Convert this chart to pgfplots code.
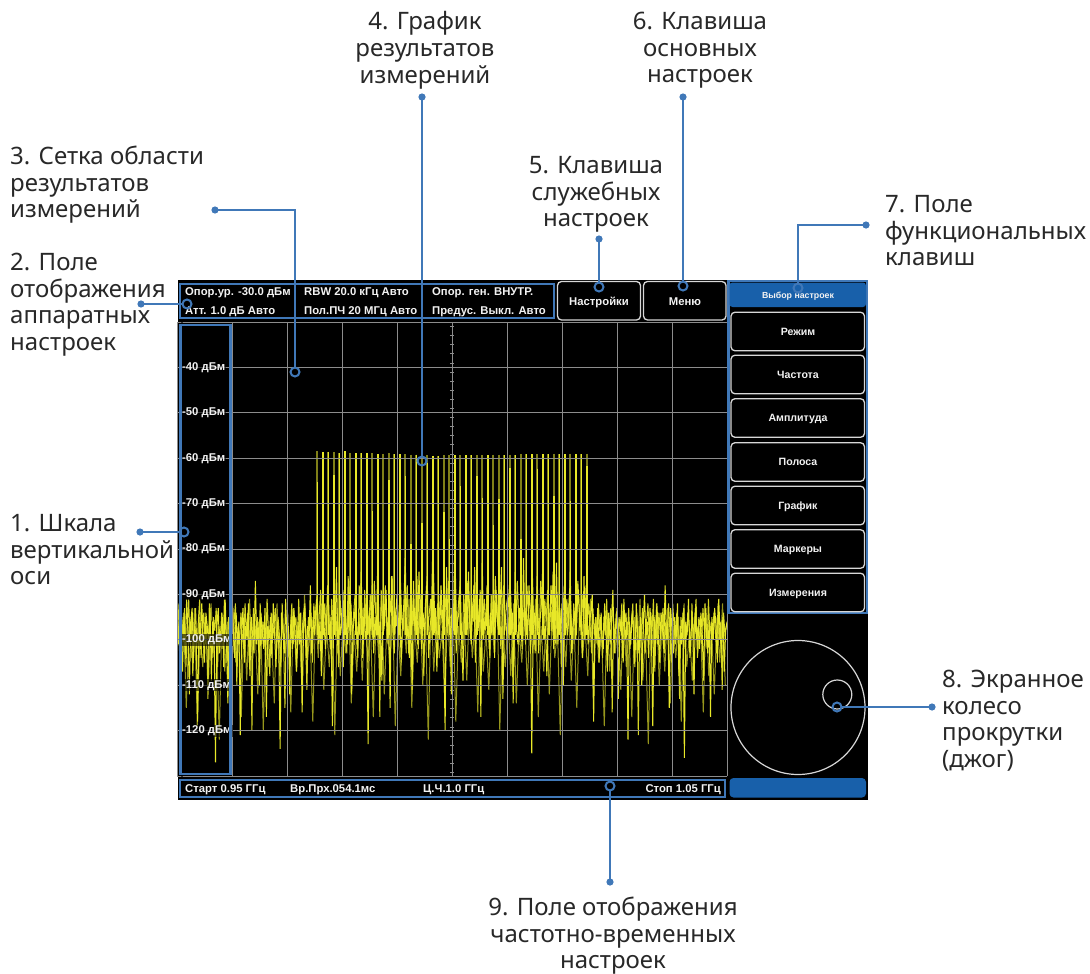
\documentclass[border=0pt]{standalone}
\usepackage{pgfplots}
\pgfplotsset{compat=1.18}
\usepackage{pgfplotstable}
\usepackage{fontspec}
\setmainfont{Noto Sans}
\newfontfamily\uifont{Liberation Sans}

\definecolor{lineblue}{RGB}{64,120,184}
\definecolor{keyblue}{RGB}{24,96,170}
\definecolor{trace}{RGB}{232,232,40}
\definecolor{tracetwo}{RGB}{215,215,35}
\definecolor{tracedim}{RGB}{128,128,24}
\definecolor{traceold}{RGB}{150,150,28}
\definecolor{gridgray}{RGB}{140,140,140}
\definecolor{anntext}{RGB}{40,40,40}
\definecolor{keyedge}{RGB}{215,215,215}
\definecolor{uiwhite}{RGB}{242,242,242}

% comb lines of the measured signal: bin, current sweep top, held top (dBm)
\pgfplotstableread{
bin bright dim
102 -65.3 -58.4
106 -58.7 -58.7
110 -58.6 -58.6
114 -63.8 -58.6
118 -58.9 -58.9
122 -58.5 -58.5
126 -75.9 -58.8
130 -58.9 -58.9
134 -58.9 -58.9
138 -58.9 -58.9
142 -71.7 -58.9
146 -59.1 -59.1
150 -80.0 -59.0
154 -64.9 -58.9
158 -59.1 -59.1
162 -59.1 -59.1
166 -64.0 -59.1
170 -79.0 -59.2
174 -59.2 -59.2
178 -74.3 -59.2
182 -61.1 -59.3
186 -59.5 -59.5
190 -59.5 -59.5
194 -71.9 -59.4
198 -77.8 -59.4
202 -59.3 -59.3
206 -66.2 -59.3
210 -59.3 -59.3
214 -59.3 -59.3
218 -64.0 -59.3
222 -68.7 -59.3
226 -59.3 -59.3
230 -74.7 -59.2
234 -69.0 -59.2
238 -59.3 -59.3
242 -62.2 -59.2
246 -59.3 -59.3
250 -77.9 -59.1
254 -59.1 -59.1
258 -59.1 -59.1
262 -62.3 -59.1
266 -59.1 -59.1
270 -59.1 -59.1
274 -68.4 -59.0
278 -59.1 -59.1
282 -59.1 -59.1
286 -69.5 -59.0
290 -59.1 -59.1
294 -59.1 -59.1
298 -61.8 -59.0
}\combtable

\tikzset{
  ui/.style={font=\uifont\bfseries\fontsize{11.3}{13}\selectfont, text=uiwhite, inner sep=0pt},
  uis/.style={font=\uifont\bfseries\fontsize{10.6}{12}\selectfont, text=uiwhite, inner sep=0pt},
  ann/.style={font=\fontsize{24}{28}\selectfont, text=anntext, inner sep=0pt},
  key/.style={draw=keyedge, line width=1.3pt, rounded corners=4pt, fill=black},
  lead/.style={lineblue, line width=2.5pt},
  ring/.style={lineblue, line width=2pt},
}

\begin{document}
\begin{tikzpicture}
\path[use as bounding box] (0,0) rectangle (1090pt,-974pt);

\begin{scope}[x=1pt,y=-1pt]
  % instrument screen
  \fill[black] (178,280) rectangle (868,800);
  % centre marks on the 1 GHz line
  \foreach \yy in {326.5,335.6,...,776}
    \draw[gridgray, line width=0.8pt] (449.8,\yy) -- (454.2,\yy);
\end{scope}

\begin{axis}[
  at={(177pt,-776pt)}, anchor=south west,
  scale only axis, width=550pt, height=454pt,
  xmin=0, xmax=400, ymin=-130, ymax=-30,
  axis on top,
  axis line style={draw=none},
  major tick length=0pt,
  xtick={0,40,...,400}, xticklabels={},
  ytick={-130,-120,...,-30},
  yticklabels={,-120 дБм,-110 дБм,-100 дБм,-90 дБм,-80 дБм,-70 дБм,-60 дБм,-50 дБм,-40 дБм,},
  grid=major, major grid style={gridgray, line width=1pt},
  yticklabel style={anchor=west, xshift=4pt, font=\uifont\bfseries\fontsize{11.3}{13}\selectfont,
    text=uiwhite, fill=black, fill opacity=0.6, text opacity=1, inner sep=1pt},
]
% held comb lines
\addplot[draw=none, mark=none,
  error bars/.cd, y dir=minus, y explicit, error mark=none,
  error bar style={draw=tracedim, line width=2.2pt}]
  table[x=bin, y=dim, y error expr=\thisrow{dim}+99] {\combtable};
% older sweep (persistence), every second bin
\addplot[traceold, line width=1pt] coordinates {
(0.75,-96) (2.75,-108) (4.75,-94) (6.75,-115) (8.75,-97) (10.75,-104) (12.75,-93) (14.75,-119) (16.75,-98) (18.75,-106)
(20.75,-95) (22.75,-111) (24.75,-92) (26.75,-103) (28.75,-99) (30.75,-122) (32.75,-94) (34.75,-107) (36.75,-96) (38.75,-113)
(40.75,-93) (42.75,-105) (44.75,-98) (46.75,-117) (48.75,-95) (50.75,-109) (52.75,-91) (54.75,-104) (56.75,-97) (58.75,-112)
(60.75,-94) (62.75,-120) (64.75,-96) (66.75,-106) (68.75,-99) (70.75,-114) (72.75,-92) (74.75,-108) (76.75,-95) (78.75,-103)
(80.75,-97) (82.75,-116) (84.75,-93) (86.75,-107) (88.75,-96) (90.75,-110) (92.75,-90) (94.75,-105) (96.75,-98) (98.75,-118)
(100.75,-94) (102.75,-104) (104.75,-92) (106.75,-111) (108.75,-97) (110.75,-106) (112.75,-95) (114.75,-121) (116.75,-93) (118.75,-108)
(120.75,-96) (122.75,-103) (124.75,-91) (126.75,-114) (128.75,-98) (130.75,-107) (132.75,-94) (134.75,-109) (136.75,-92) (138.75,-105)
(140.75,-97) (142.75,-117) (144.75,-95) (146.75,-104) (148.75,-90) (150.75,-112) (152.75,-96) (154.75,-106) (156.75,-93) (158.75,-119)
(160.75,-98) (162.75,-108) (164.75,-94) (166.75,-103) (168.75,-91) (170.75,-115) (172.75,-97) (174.75,-105) (176.75,-93) (178.75,-110)
(180.75,-96) (182.75,-122) (184.75,-92) (186.75,-107) (188.75,-95) (190.75,-104) (192.75,-98) (194.75,-113) (196.75,-94) (198.75,-106)
(200.75,-92) (202.75,-118) (204.75,-97) (206.75,-105) (208.75,-95) (210.75,-109) (212.75,-91) (214.75,-104) (216.75,-96) (218.75,-116)
(220.75,-93) (222.75,-107) (224.75,-98) (226.75,-111) (228.75,-94) (230.75,-103) (232.75,-90) (234.75,-120) (236.75,-97) (238.75,-106)
(240.75,-95) (242.75,-108) (244.75,-92) (246.75,-114) (248.75,-98) (250.75,-105) (252.75,-94) (254.75,-110) (256.75,-96) (258.75,-103)
(260.75,-91) (262.75,-117) (264.75,-97) (266.75,-107) (268.75,-93) (270.75,-112) (272.75,-95) (274.75,-104) (276.75,-98) (278.75,-121)
(280.75,-94) (282.75,-106) (284.75,-92) (286.75,-109) (288.75,-96) (290.75,-115) (292.75,-93) (294.75,-104) (296.75,-97) (298.75,-108)
(300.75,-91) (302.75,-113) (304.75,-95) (306.75,-105) (308.75,-98) (310.75,-119) (312.75,-94) (314.75,-107) (316.75,-92) (318.75,-103)
(320.75,-96) (322.75,-111) (324.75,-93) (326.75,-106) (328.75,-97) (330.75,-117) (332.75,-95) (334.75,-104) (336.75,-91) (338.75,-109)
(340.75,-98) (342.75,-123) (344.75,-94) (346.75,-105) (348.75,-92) (350.75,-110) (352.75,-96) (354.75,-107) (356.75,-93) (358.75,-114)
(360.75,-97) (362.75,-104) (364.75,-95) (366.75,-118) (368.75,-92) (370.75,-106) (372.75,-98) (374.75,-109) (376.75,-94) (378.75,-103)
(380.75,-96) (382.75,-116) (384.75,-93) (386.75,-108) (388.75,-97) (390.75,-112) (392.75,-95) (394.75,-105) (396.75,-92) (398.75,-110)
};
% previous sweep, offset by half a bin
\addplot[tracetwo, line width=1pt] coordinates {
(0.5,-98) (1.5,-92) (2.5,-103) (3.5,-95) (4.5,-100) (5.5,-93) (6.5,-106) (7.5,-97) (8.5,-91) (9.5,-101)
(10.5,-95) (11.5,-108) (12.5,-99) (13.5,-93) (14.5,-102) (15.5,-96) (16.5,-91) (17.5,-104) (18.5,-98) (19.5,-94)
(20.5,-101) (21.5,-97) (22.5,-113) (23.5,-92) (24.5,-99) (25.5,-104) (26.5,-95) (27.5,-98) (28.5,-93) (29.5,-106)
(30.5,-97) (31.5,-100) (32.5,-94) (33.5,-102) (34.5,-91) (35.5,-98) (36.5,-105) (37.5,-95) (38.5,-99) (39.5,-93)
(40.5,-103) (41.5,-96) (42.5,-92) (43.5,-110) (44.5,-97) (45.5,-101) (46.5,-94) (47.5,-99) (48.5,-102) (49.5,-92)
(50.5,-99) (51.5,-94) (52.5,-105) (53.5,-96) (54.5,-120) (55.5,-93) (56.5,-100) (57.5,-97) (58.5,-95) (59.5,-103)
(60.5,-92) (61.5,-101) (62.5,-96) (63.5,-99) (64.5,-104) (65.5,-91) (66.5,-98) (67.5,-108) (68.5,-94) (69.5,-100)
(70.5,-97) (71.5,-93) (72.5,-102) (73.5,-95) (74.5,-99) (75.5,-106) (76.5,-92) (77.5,-100) (78.5,-115) (79.5,-96)
(80.5,-94) (81.5,-104) (82.5,-98) (83.5,-92) (84.5,-101) (85.5,-97) (86.5,-95) (87.5,-103) (88.5,-91) (89.5,-99)
(90.5,-102) (91.5,-96) (92.5,-93) (93.5,-100) (94.5,-111) (95.5,-95) (96.5,-98) (97.5,-94) (98.5,-105) (99.5,-92)
(100.5,-97) (101.5,-91) (102.5,-100) (103.5,-94) (104.5,-89) (105.5,-103) (106.5,-96) (107.5,-92) (108.5,-99) (109.5,-88)
(110.5,-95) (111.5,-102) (112.5,-91) (113.5,-97) (114.5,-87) (115.5,-100) (116.5,-94) (117.5,-106) (118.5,-90) (119.5,-96)
(120.5,-99) (121.5,-89) (122.5,-95) (123.5,-103) (124.5,-86) (125.5,-98) (126.5,-92) (127.5,-100) (128.5,-94) (129.5,-90)
(130.5,-97) (131.5,-104) (132.5,-88) (133.5,-95) (134.5,-93) (135.5,-101) (136.5,-89) (137.5,-97) (138.5,-92) (139.5,-99)
(140.5,-90) (141.5,-96) (142.5,-100) (143.5,-87) (144.5,-94) (145.5,-98) (146.5,-91) (147.5,-117) (148.5,-89) (149.5,-95)
(150.5,-98) (151.5,-88) (152.5,-96) (153.5,-101) (154.5,-90) (155.5,-94) (156.5,-86) (157.5,-99) (158.5,-93) (159.5,-97)
(160.5,-92) (161.5,-100) (162.5,-87) (163.5,-96) (164.5,-98) (165.5,-91) (166.5,-95) (167.5,-88) (168.5,-103) (169.5,-94)
(170.5,-89) (171.5,-97) (172.5,-93) (173.5,-99) (174.5,-86) (175.5,-102) (176.5,-95) (177.5,-90) (178.5,-96) (179.5,-108)
(180.5,-93) (181.5,-88) (182.5,-98) (183.5,-94) (184.5,-91) (185.5,-100) (186.5,-85) (187.5,-96) (188.5,-99) (189.5,-92)
(190.5,-97) (191.5,-90) (192.5,-95) (193.5,-101) (194.5,-88) (195.5,-93) (196.5,-99) (197.5,-87) (198.5,-94) (199.5,-112)
(200.5,-91) (201.5,-96) (202.5,-86) (203.5,-99) (204.5,-93) (205.5,-89) (206.5,-97) (207.5,-102) (208.5,-90) (209.5,-95)
(210.5,-98) (211.5,-87) (212.5,-94) (213.5,-100) (214.5,-92) (215.5,-96) (216.5,-84) (217.5,-99) (218.5,-93) (219.5,-97)
(220.5,-89) (221.5,-101) (222.5,-95) (223.5,-91) (224.5,-98) (225.5,-88) (226.5,-94) (227.5,-104) (228.5,-90) (229.5,-96)
(230.5,-99) (231.5,-86) (232.5,-93) (233.5,-97) (234.5,-90) (235.5,-102) (236.5,-95) (237.5,-88) (238.5,-98) (239.5,-92)
(240.5,-94) (241.5,-100) (242.5,-89) (243.5,-96) (244.5,-114) (245.5,-91) (246.5,-97) (247.5,-87) (248.5,-95) (249.5,-99)
(250.5,-90) (251.5,-96) (252.5,-93) (253.5,-101) (254.5,-88) (255.5,-94) (256.5,-98) (257.5,-92) (258.5,-86) (259.5,-97)
(260.5,-103) (261.5,-90) (262.5,-95) (263.5,-99) (264.5,-87) (265.5,-93) (266.5,-100) (267.5,-91) (268.5,-96) (269.5,-89)
(270.5,-97) (271.5,-92) (272.5,-98) (273.5,-85) (274.5,-94) (275.5,-101) (276.5,-90) (277.5,-96) (278.5,-93) (279.5,-106)
(280.5,-88) (281.5,-95) (282.5,-99) (283.5,-91) (284.5,-97) (285.5,-89) (286.5,-94) (287.5,-102) (288.5,-92) (289.5,-96)
(290.5,-99) (291.5,-87) (292.5,-93) (293.5,-97) (294.5,-90) (295.5,-95) (296.5,-100) (297.5,-88) (298.5,-96) (299.5,-92)
(300.5,-97) (301.5,-103) (302.5,-93) (303.5,-99) (304.5,-95) (305.5,-101) (306.5,-92) (307.5,-98) (308.5,-94) (309.5,-104)
(310.5,-95) (311.5,-99) (312.5,-91) (313.5,-102) (314.5,-97) (315.5,-93) (316.5,-116) (317.5,-96) (318.5,-100) (319.5,-94)
(320.5,-101) (321.5,-95) (322.5,-98) (323.5,-92) (324.5,-105) (325.5,-97) (326.5,-94) (327.5,-99) (328.5,-93) (329.5,-102)
(330.5,-96) (331.5,-92) (332.5,-104) (333.5,-98) (334.5,-94) (335.5,-121) (336.5,-97) (337.5,-100) (338.5,-93) (339.5,-99)
(340.5,-103) (341.5,-96) (342.5,-92) (343.5,-100) (344.5,-95) (345.5,-98) (346.5,-91) (347.5,-107) (348.5,-96) (349.5,-101)
(350.5,-94) (351.5,-99) (352.5,-97) (353.5,-93) (354.5,-103) (355.5,-96) (356.5,-100) (357.5,-92) (358.5,-98) (359.5,-105)
(360.5,-92) (361.5,-97) (362.5,-101) (363.5,-94) (364.5,-99) (365.5,-113) (366.5,-95) (367.5,-98) (368.5,-93) (369.5,-102)
(370.5,-99) (371.5,-94) (372.5,-97) (373.5,-103) (374.5,-92) (375.5,-100) (376.5,-96) (377.5,-91) (378.5,-104) (379.5,-95)
(380.5,-97) (381.5,-101) (382.5,-93) (383.5,-98) (384.5,-95) (385.5,-102) (386.5,-91) (387.5,-99) (388.5,-96) (389.5,-100)
(390.5,-94) (391.5,-98) (392.5,-103) (393.5,-92) (394.5,-100) (395.5,-96) (396.5,-111) (397.5,-94) (398.5,-99) (399.5,-97)
};
% current sweep, 0.25 MHz bins from 0.95 GHz
\addplot[trace, line width=1pt] coordinates {
(0,-94) (1,-101) (2,-92) (3,-99) (4,-107) (5,-95) (6,-103) (7,-91) (8,-98) (9,-112)
(10,-96) (11,-93) (12,-104) (13,-97) (14,-100) (15,-118) (16,-95) (17,-102) (18,-92) (19,-99)
(20,-105) (21,-94) (22,-97) (23,-101) (24,-93) (25,-109) (26,-96) (27,-100) (28,-127) (29,-97)
(30,-93) (31,-103) (32,-98) (33,-95) (34,-106) (35,-91) (36,-100) (37,-114) (38,-96) (39,-102)
(40,-89) (41,-99) (42,-104) (43,-94) (44,-101) (45,-96) (46,-121) (47,-98) (48,-93) (49,-105)
(50,-97) (51,-100) (52,-92) (53,-108) (54,-95) (55,-99) (56,-103) (57,-87) (58,-101) (59,-96)
(60,-110) (61,-94) (62,-98) (63,-102) (64,-93) (65,-117) (66,-97) (67,-100) (68,-95) (69,-104)
(70,-92) (71,-99) (72,-106) (73,-96) (74,-101) (75,-124) (76,-94) (77,-98) (78,-103) (79,-91)
(80,-100) (81,-97) (82,-112) (83,-95) (84,-102) (85,-93) (86,-99) (87,-107) (88,-96) (89,-101)
(90,-94) (91,-116) (92,-98) (93,-92) (94,-104) (95,-97) (96,-100) (97,-88) (98,-103) (99,-95)
(100,-99) (101,-93) (102,-90) (103,-101) (104,-96) (105,-108) (106,-86) (107,-97) (108,-102) (109,-94)
(110,-88) (111,-100) (112,-95) (113,-119) (114,-92) (115,-98) (116,-84) (117,-103) (118,-96) (119,-99)
(120,-93) (121,-106) (122,-89) (123,-97) (124,-101) (125,-94) (126,-87) (127,-112) (128,-98) (129,-95)
(130,-91) (131,-102) (132,-96) (133,-99) (134,-85) (135,-104) (136,-93) (137,-100) (138,-97) (139,-123)
(140,-94) (141,-98) (142,-88) (143,-103) (144,-95) (145,-99) (146,-83) (147,-101) (148,-96) (149,-109)
(150,-92) (151,-97) (152,-89) (153,-100) (154,-94) (155,-115) (156,-86) (157,-98) (158,-103) (159,-95)
(160,-90) (161,-99) (162,-93) (163,-105) (164,-96) (165,-92) (166,-82) (167,-100) (168,-97) (169,-104)
(170,-95) (171,-111) (172,-87) (173,-98) (174,-93) (175,-101) (176,-85) (177,-96) (178,-102) (179,-94)
(180,-99) (181,-92) (182,-86) (183,-104) (184,-97) (185,-95) (186,-80) (187,-99) (188,-93) (189,-107)
(190,-96) (191,-100) (192,-88) (193,-94) (194,-102) (195,-120) (196,-84) (197,-97) (198,-95) (199,-101)
(200,-93) (201,-98) (202,-79) (203,-103) (204,-96) (205,-94) (206,-87) (207,-100) (208,-109) (209,-95)
(210,-92) (211,-99) (212,-85) (213,-97) (214,-101) (215,-93) (216,-88) (217,-105) (218,-96) (219,-98)
(220,-91) (221,-117) (222,-83) (223,-100) (224,-95) (225,-97) (226,-86) (227,-102) (228,-94) (229,-99)
(230,-90) (231,-104) (232,-89) (233,-96) (234,-98) (235,-93) (236,-84) (237,-113) (238,-97) (239,-95)
(240,-100) (241,-92) (242,-87) (243,-99) (244,-94) (245,-106) (246,-85) (247,-98) (248,-101) (249,-93)
(250,-96) (251,-102) (252,-82) (253,-97) (254,-93) (255,-100) (256,-88) (257,-95) (258,-125) (259,-99)
(260,-94) (261,-98) (262,-86) (263,-103) (264,-96) (265,-92) (266,-84) (267,-100) (268,-97) (269,-108)
(270,-95) (271,-99) (272,-88) (273,-94) (274,-102) (275,-97) (276,-83) (277,-101) (278,-93) (279,-98)
(280,-92) (281,-110) (282,-87) (283,-96) (284,-99) (285,-95) (286,-85) (287,-103) (288,-97) (289,-94)
(290,-100) (291,-93) (292,-89) (293,-98) (294,-95) (295,-104) (296,-86) (297,-99) (298,-92) (299,-101)
(300,-96) (301,-94) (302,-90) (303,-118) (304,-97) (305,-100) (306,-93) (307,-105) (308,-95) (309,-99)
(310,-102) (311,-92) (312,-98) (313,-107) (314,-94) (315,-101) (316,-96) (317,-89) (318,-103) (319,-97)
(320,-93) (321,-113) (322,-99) (323,-95) (324,-104) (325,-91) (326,-100) (327,-97) (328,-122) (329,-96)
(330,-101) (331,-94) (332,-98) (333,-106) (334,-92) (335,-99) (336,-103) (337,-95) (338,-110) (339,-97)
(340,-90) (341,-100) (342,-96) (343,-104) (344,-93) (345,-98) (346,-119) (347,-95) (348,-101) (349,-92)
(350,-99) (351,-105) (352,-94) (353,-97) (354,-102) (355,-88) (356,-100) (357,-96) (358,-115) (359,-93)
(360,-98) (361,-103) (362,-95) (363,-100) (364,-92) (365,-108) (366,-97) (367,-101) (368,-94) (369,-126)
(370,-96) (371,-99) (372,-91) (373,-104) (374,-98) (375,-95) (376,-112) (377,-93) (378,-100) (379,-97)
(380,-102) (381,-94) (382,-99) (383,-109) (384,-92) (385,-98) (386,-103) (387,-96) (388,-117) (389,-95)
(390,-100) (391,-93) (392,-97) (393,-105) (394,-91) (395,-99) (396,-102) (397,-95) (398,-107) (399,-98)
(400,-96)
};
% comb lines of the current sweep
\addplot[draw=none, mark=none,
  error bars/.cd, y dir=minus, y explicit, error mark=none,
  error bar style={draw=trace, line width=1.5pt}]
  table[x=bin, y=bright, y error expr=\thisrow{bright}+99] {\combtable};
\end{axis}

\begin{scope}[x=1pt,y=-1pt]
  % scale column frame
  \draw[lineblue, line width=2.5pt] (180.5,325) rectangle (230.5,774);

  % hardware settings field
  \draw[lineblue, line width=2pt] (180.3,283.7) rectangle (554.3,317.7);
  \node[ui, anchor=base west] at (185,295.3) {Опор.ур. -30.0 дБм};
  \node[ui, anchor=base west] at (185,314.3) {Атт. 1.0 дБ Авто};
  \node[ui, anchor=base west] at (304,295.3) {RBW 20.0 кГц Авто};
  \node[ui, anchor=base west] at (304,314.3) {Пол.ПЧ 20 МГц Авто};
  \node[ui, anchor=base west] at (432,295.3) {Опор. ген. ВНУТР.};
  \node[ui, anchor=base west] at (432,314.3) {Предус. Выкл. Авто};

  % service and main keys
  \draw[key] (557.5,281.5) rectangle (640.5,320);
  \node[ui, anchor=base] at (599,305) {Настройки};
  \draw[key] (643.5,281.5) rectangle (726,320);
  \node[ui, anchor=base] at (685,305) {Меню};

  % function key panel
  \draw[lineblue, line width=2.5pt] (728.5,281) rectangle (867,613);
  \fill[keyblue, rounded corners=3pt] (729.5,282.5) rectangle (866,307);
  \node[font=\uifont\bfseries\fontsize{8.8}{10}\selectfont, text=uiwhite, inner sep=0pt, anchor=base] at (798,298.3) {Выбор настроек};
  \foreach \yc/\lab in {331.5/Режим, 374.5/Частота, 418/Амплитуда, 462/Полоса, 505.5/График, 549/Маркеры, 592.5/Измерения}{
    \draw[key] (731,\yc-19.3) rectangle (864.5,\yc+19.3);
    \node[uis, anchor=base] at (798,\yc+3.8) {\lab};
  }

  % jog wheel
  \draw[keyedge, line width=1.2pt] (798,707.5) circle[radius=67pt];
  \draw[keyedge, line width=1.2pt] (837.3,694.5) circle[radius=14.5pt];
  \fill[keyblue, rounded corners=4pt] (729.5,778) rectangle (866,797.5);

  % frequency and time field
  \draw[lineblue, line width=2pt] (180.3,779.8) rectangle (725,797);
  \node[ui, anchor=base west] at (185,792.3) {Старт 0.95 ГГц};
  \node[ui, anchor=base west] at (290,792.3) {Вр.Прх.054.1мс};
  \node[ui, anchor=base west] at (423,792.3) {Ц.Ч.1.0 ГГц};
  \node[ui, anchor=base east] at (721,792.3) {Стоп 1.05 ГГц};

  % callouts
  \draw[lead] (140,532) -- (179.5,532);
  \fill[lineblue] (140,532) circle[radius=3.6pt];
  \draw[ring] (184,532) circle[radius=4.5pt];

  \draw[lead] (141,304) -- (182.5,304);
  \fill[lineblue] (141,304) circle[radius=3.6pt];
  \draw[ring] (187,304) circle[radius=4.5pt];

  \draw[lead] (215,210) -- (295,210) -- (295,367.5);
  \fill[lineblue] (215,210) circle[radius=3.6pt];
  \draw[ring] (295,372) circle[radius=4.5pt];

  \draw[lead] (422,97) -- (422,456.5);
  \fill[lineblue] (422,97) circle[radius=3.6pt];
  \draw[ring] (422,461) circle[radius=4.5pt];

  \draw[lead] (599,239) -- (599,282.5);
  \fill[lineblue] (599,239) circle[radius=3.6pt];
  \draw[ring] (599,287) circle[radius=4.5pt];

  \draw[lead] (683,97) -- (683,281.5);
  \fill[lineblue] (683,97) circle[radius=3.6pt];
  \draw[ring] (683,286) circle[radius=4.5pt];

  \draw[lead] (866,225) -- (798,225) -- (798,283.5);
  \fill[lineblue] (866,225) circle[radius=3.6pt];
  \draw[ring] (798,288) circle[radius=4.5pt];

  \draw[lead] (841.5,707) -- (932,707);
  \fill[lineblue] (932,707) circle[radius=3.6pt];
  \draw[ring] (837,707) circle[radius=4.5pt];

  \draw[lead] (610,790.5) -- (610,882);
  \fill[lineblue] (610,882) circle[radius=3.6pt];
  \draw[ring] (610,786) circle[radius=4.5pt];

  % callout texts
  \node[ann, anchor=base] at (425,30) {4. График};
  \node[ann, anchor=base] at (425,56.7) {результатов};
  \node[ann, anchor=base] at (425,83.3) {измерений};

  \node[ann, anchor=base] at (700,29.5) {6. Клавиша};
  \node[ann, anchor=base] at (700,56.2) {основных};
  \node[ann, anchor=base] at (700,82.8) {настроек};

  \node[ann, anchor=base west] at (10,164.5) {3. Сетка области};
  \node[ann, anchor=base west] at (10,191) {результатов};
  \node[ann, anchor=base west] at (10,217.5) {измерений};

  \node[ann, anchor=base] at (596,173.5) {5. Клавиша};
  \node[ann, anchor=base] at (596,200) {служебных};
  \node[ann, anchor=base] at (596,226.5) {настроек};

  \node[ann, anchor=base west] at (885,212.5) {7. Поле};
  \node[ann, anchor=base west] at (885,239) {функциональных};
  \node[ann, anchor=base west] at (885,265.5) {клавиш};

  \node[ann, anchor=base west] at (10,270.5) {2. Поле};
  \node[ann, anchor=base west] at (10,297) {отображения};
  \node[ann, anchor=base west] at (10,323.5) {аппаратных};
  \node[ann, anchor=base west] at (10,350) {настроек};

  \node[ann, anchor=base west] at (10,531.5) {1. Шкала};
  \node[ann, anchor=base west] at (10,558) {вертикальной};
  \node[ann, anchor=base west] at (10,584.5) {оси};

  \node[ann, anchor=base west] at (942,687.5) {8. Экранное};
  \node[ann, anchor=base west] at (942,714) {колесо};
  \node[ann, anchor=base west] at (942,740.5) {прокрутки};
  \node[ann, anchor=base west] at (942,767) {(джог)};

  \node[ann, anchor=base] at (613,915.5) {9. Поле отображения};
  \node[ann, anchor=base] at (613,942) {частотно-временных};
  \node[ann, anchor=base] at (613,968.5) {настроек};
\end{scope}
\end{tikzpicture}
\end{document}
